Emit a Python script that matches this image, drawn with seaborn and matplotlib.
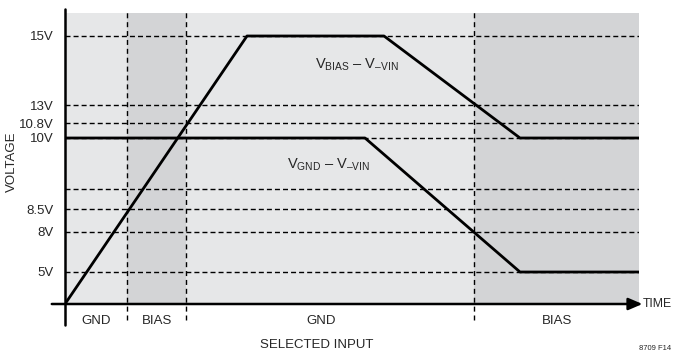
import numpy as np
import pandas as pd
import matplotlib
matplotlib.use('Agg')
import matplotlib.pyplot as plt
from matplotlib import font_manager
import seaborn as sns

# voltage levels marked on the (schematic) voltage axis
volt_ticks = [0, 5, 8, 8.5, 9, 10, 10.8, 13, 15]
volt_labels = ['', '5V', '8V', '8.5V', '', '10V', '10.8V', '13V', '15V']

# selected input phases along time (arbitrary units)
phase_edges = [0, 6.2, 12.1, 40.9, 57.4]
phase_names = ['GND', 'BIAS', 'GND', 'BIAS']
phase_shaded = [False, True, False, True]

# V_BIAS - V_-VIN
bias_t = [0, 18.2, 31.9, 45.5, 57.4]
bias_v = [0, 15, 15, 10, 10]
# V_GND - V_-VIN
gnd_t = [0, 30.0, 45.5, 57.4]
gnd_v = [10, 10, 5, 5]

# schematic axis is not linear: where each level sits (pixels above the time axis)
knot_v = [0, 5, 8, 8.5, 9, 10, 10.8, 13, 15, 25]
knot_p = [0, 32, 72, 95, 115, 166, 181, 199, 268, 613]


def fwd(v):
    return np.interp(v, knot_v, knot_p)


def inv(p):
    return np.interp(p, knot_p, knot_v)


sns.set_theme(style='white')
names = {f.name for f in font_manager.fontManager.ttflist}
main_font = 'Liberation Sans Narrow' if 'Liberation Sans Narrow' in names else 'Liberation Sans'
plt.rcParams['font.family'] = [main_font, 'DejaVu Sans']
plt.rcParams['mathtext.fontset'] = 'custom'
plt.rcParams['mathtext.rm'] = main_font
plt.rcParams['mathtext.it'] = main_font
fs = 9.5

fig = plt.figure(figsize=(6.73, 3.54), dpi=100)
ax = fig.add_axes([65 / 673, 50 / 354, 574 / 673, 291 / 354])
ax.set_yscale('function', functions=(fwd, inv))
ax.set_xlim(phase_edges[0], phase_edges[-1])
ax.set_ylim(0, inv(291))

light, dark = '#e6e7e8', '#d3d4d6'
for i, name in enumerate(phase_names):
    ax.axvspan(phase_edges[i], phase_edges[i + 1], color=dark if phase_shaded[i] else light, lw=0, zorder=0)

# horizontal dashed levels
for v in volt_ticks[1:]:
    ax.axhline(v, color='black', lw=1, ls=(0, (3.6, 2.2)), zorder=1)

# vertical dashed phase boundaries (extend past the plot area)
for e in phase_edges[1:-1]:
    ax.axvline(e, ymin=-0.055, ymax=1.01, color='black', lw=1, ls=(0, (3.6, 2.8)),
               clip_on=False, zorder=1)

df_bias = pd.DataFrame({'t': bias_t, 'v': bias_v})
df_gnd = pd.DataFrame({'t': gnd_t, 'v': gnd_v})
sns.lineplot(data=df_bias, x='t', y='v', ax=ax, color='black', lw=2, sort=False, zorder=3)
sns.lineplot(data=df_gnd, x='t', y='v', ax=ax, color='black', lw=2, sort=False, zorder=3)

for s in ax.spines.values():
    s.set_visible(False)
ax.set_xticks([])
ax.set_yticks(volt_ticks)
ax.set_yticklabels(volt_labels, fontsize=fs)
ax.tick_params(axis='y', length=0, pad=8)
ax.set_xlabel('')
ax.set_ylabel('')

# axes: vertical line and time arrow
ax.axvline(0, ymin=-0.072, ymax=1.014, color='black', lw=1.8, clip_on=False, zorder=4)
ax.annotate('', xy=(1.006, 0), xytext=(-0.023, 0), xycoords='axes fraction',
            arrowprops=dict(arrowstyle='-|>,head_length=0.7,head_width=0.3', color='black', lw=1.8,
                            shrinkA=0, shrinkB=0), annotation_clip=False, zorder=4)
fig.text(643 / 673, 50 / 354, 'TIME', ha='left', va='center', fontsize=8.8)

# phase labels below the axis
label_t = [3.1, 9.2, 25.6, 49.2]
for t, name in zip(label_t, phase_names):
    ax.text(t, -0.057, name, transform=ax.get_xaxis_transform(), ha='center', va='center', fontsize=fs)

fig.text(317 / 673, 1 - 345 / 354, 'SELECTED INPUT', ha='center', va='center', fontsize=fs)
fig.text(12 / 673, 1 - 162 / 354, 'VOLTAGE', ha='center', va='center', rotation=90, fontsize=fs)
fig.text(671 / 673, 1 - 349 / 354, '8709 F14', ha='right', va='center', fontsize=5.5)

fig.text(357 / 673, 1 - 65 / 354, r'$\mathregular{V_{BIAS}\ –\ V_{–VIN}}$', ha='center', va='center', fontsize=10.5)
fig.text(329 / 673, 1 - 165 / 354, r'$\mathregular{V_{GND}\ –\ V_{–VIN}}$', ha='center', va='center', fontsize=10.5)

fig.savefig('out.png', dpi=100)
